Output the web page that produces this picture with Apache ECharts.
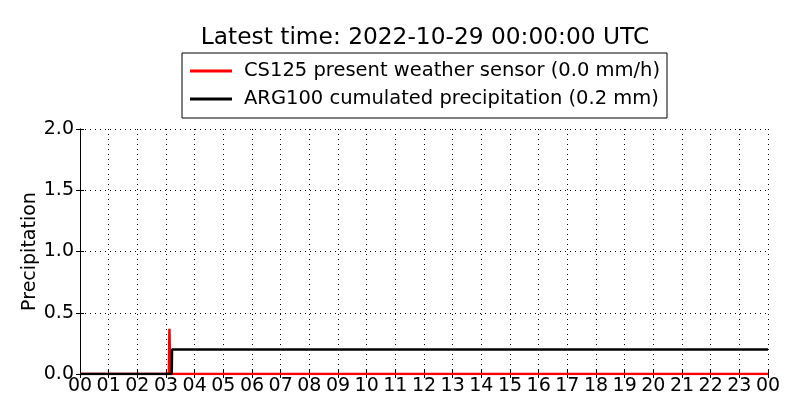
<!DOCTYPE html>
<html lang="en">
<head>
    <meta charset="UTF-8">
    <title>Precipitation</title>
    <script src="https://cdn.jsdelivr.net/npm/echarts@6/dist/echarts.min.js"></script>
    <style>
        html, body { margin: 0; padding: 0; background: #fff; }
        #chart { width: 800px; height: 420px; }
    </style>
</head>
<body>
<div id="chart"></div>
<script>
    // CS125 present weather sensor (mm/h), hours since 00 UTC
    var cs125Hours = [0, 3.10, 3.12, 3.15, 24]
    var cs125Values = [0, 0, 0.37, 0, 0]
    // ARG100 cumulated precipitation (mm)
    var argHours = [0, 3.20, 3.21, 24]
    var argValues = [0, 0, 0.2, 0.2]
    var legendNames = ['CS125 present weather sensor (0.0 mm/h)', 'ARG100 cumulated precipitation (0.2 mm)']
    var titleText = 'Latest time: 2022-10-29 00:00:00 UTC'

    var font = 'DejaVu Sans'
    function pairs (xs, ys) {
        return xs.map(function (x, i) { return [x, ys[i]] })
    }
    function hourLabel (v) {
        var h = Math.round(v) % 24
        return (h < 10 ? '0' : '') + h
    }
    var frameLine = {show: true, lineStyle: {color: '#000', width: 1}}
    var inTicks = {show: true, inside: true, length: 4, lineStyle: {color: '#000'}}

    var chart = echarts.init(document.getElementById('chart'))
    chart.setOption({
        animation: false,
        backgroundColor: '#fff',
        title: {
            text: titleText,
            left: 420,
            textAlign: 'center',
            top: 21,
            textStyle: {fontFamily: font, fontSize: 23.3, fontWeight: 'normal', color: '#000'}
        },
        legend: {
            data: legendNames,
            orient: 'vertical',
            left: 182,
            top: 53,
            padding: [8, 7, 9, 8],
            itemGap: 8,
            itemWidth: 42,
            itemHeight: 3,
            icon: 'rect',
            borderColor: '#000',
            borderWidth: 1,
            textStyle: {fontFamily: font, fontSize: 19.5, color: '#000', padding: [0, 0, 0, 7]}
        },
        grid: {left: 80, right: 32, top: 129, bottom: 46, containLabel: false},
        xAxis: [{
            type: 'value', min: 0, max: 24, interval: 1,
            axisLine: frameLine, axisTick: inTicks,
            axisLabel: {fontFamily: font, fontSize: 19, color: '#000', margin: 3, formatter: hourLabel},
            splitLine: {show: true, lineStyle: {color: '#000', type: [1, 4], width: 1}}
        }, {
            type: 'value', min: 0, max: 24, interval: 1, position: 'top',
            axisLine: frameLine, axisTick: inTicks, axisLabel: {show: false}, splitLine: {show: false}
        }],
        yAxis: [{
            type: 'value', min: 0, max: 2, interval: 0.5,
            name: 'Precipitation', nameLocation: 'middle', nameGap: 40, nameMoveOverlap: false,
            nameTextStyle: {fontFamily: font, fontSize: 19, color: '#000'},
            axisLine: frameLine, axisTick: inTicks,
            axisLabel: {fontFamily: font, fontSize: 19, color: '#000', margin: 6, formatter: function (v) { return v.toFixed(1) }},
            splitLine: {show: true, lineStyle: {color: '#000', type: [1, 4], width: 1}}
        }, {
            type: 'value', min: 0, max: 2, interval: 0.5, position: 'right',
            axisLine: frameLine, axisTick: inTicks, axisLabel: {show: false}, splitLine: {show: false}
        }],
        series: [{
            name: legendNames[0],
            type: 'line',
            data: pairs(cs125Hours, cs125Values),
            showSymbol: false,
            clip: true,
            color: '#ff0000',
            lineStyle: {color: '#ff0000', width: 2.5},
            z: 2
        }, {
            name: legendNames[1],
            type: 'line',
            data: pairs(argHours, argValues),
            showSymbol: false,
            clip: true,
            color: '#000',
            lineStyle: {color: '#000', width: 2.5},
            z: 3
        }]
    })
</script>
</body>
</html>
